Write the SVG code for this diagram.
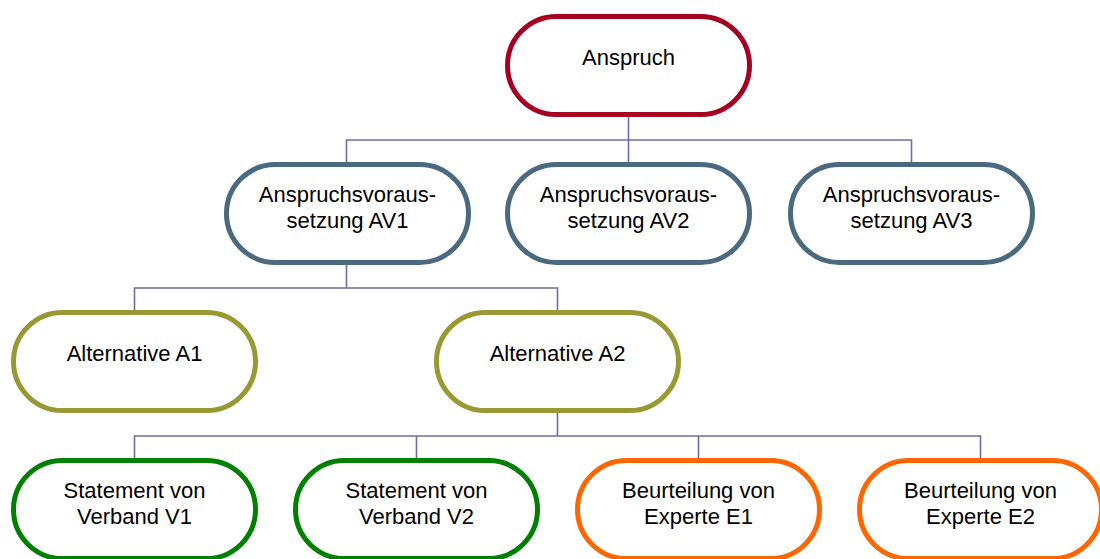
<svg xmlns="http://www.w3.org/2000/svg" width="1100" height="559" viewBox="0 0 1100 559">
<style>
.n{fill:#fff;stroke-width:5}
.t{font-family:"Liberation Sans",Arial,sans-serif;font-size:22px;fill:#000;text-anchor:middle}
.c{fill:none;stroke:#6e6ea6;stroke-width:1.6}
.red{stroke:#a50021}.av{stroke:#4b6a80}.alt{stroke:#999933}.grn{stroke:#008000}.org{stroke:#ff6600}
</style>
<rect width="1100" height="559" fill="#fff"/>
<g id="connectors">
<path class="c" d="M628.5 116V140M346.5 162V140H911.5V162M628.5 140V162"/>
<path class="c" d="M346.5 265V288M134.5 310V288H557.5V310"/>
<path class="c" d="M557.5 413V436M134.5 458V436H980.5V458M416.5 436V458M698.5 436V458"/>
</g>
<g id="anspruch"><rect class="n red" x="507.5" y="16.5" width="242" height="98" rx="49"/><text class="t" x="628.5" y="65">Anspruch</text></g>
<g id="av1"><rect class="n av" x="226.5" y="164.5" width="242" height="98" rx="49"/><text class="t" x="347.5" y="202">Anspruchsvoraus-</text><text class="t" x="347.5" y="228">setzung AV1</text></g>
<g id="av2"><rect class="n av" x="507.5" y="164.5" width="242" height="98" rx="49"/><text class="t" x="628.5" y="202">Anspruchsvoraus-</text><text class="t" x="628.5" y="228">setzung AV2</text></g>
<g id="av3"><rect class="n av" x="790.5" y="164.5" width="242" height="98" rx="49"/><text class="t" x="911.5" y="202">Anspruchsvoraus-</text><text class="t" x="911.5" y="228">setzung AV3</text></g>
<g id="a1"><rect class="n alt" x="13.5" y="312.5" width="242" height="98" rx="49"/><text class="t" x="134.5" y="361">Alternative A1</text></g>
<g id="a2"><rect class="n alt" x="436.5" y="312.5" width="242" height="98" rx="49"/><text class="t" x="557.5" y="361">Alternative A2</text></g>
<g id="v1"><rect class="n grn" x="13.5" y="460.5" width="242" height="98" rx="49"/><text class="t" x="134.5" y="498">Statement von</text><text class="t" x="134.5" y="524">Verband V1</text></g>
<g id="v2"><rect class="n grn" x="295.5" y="460.5" width="242" height="98" rx="49"/><text class="t" x="416.5" y="498">Statement von</text><text class="t" x="416.5" y="524">Verband V2</text></g>
<g id="e1"><rect class="n org" x="577.5" y="460.5" width="242" height="98" rx="49"/><text class="t" x="698.5" y="498">Beurteilung von</text><text class="t" x="698.5" y="524">Experte E1</text></g>
<g id="e2"><rect class="n org" x="859.5" y="460.5" width="242" height="98" rx="49"/><text class="t" x="980.5" y="498">Beurteilung von</text><text class="t" x="980.5" y="524">Experte E2</text></g>
</svg>
